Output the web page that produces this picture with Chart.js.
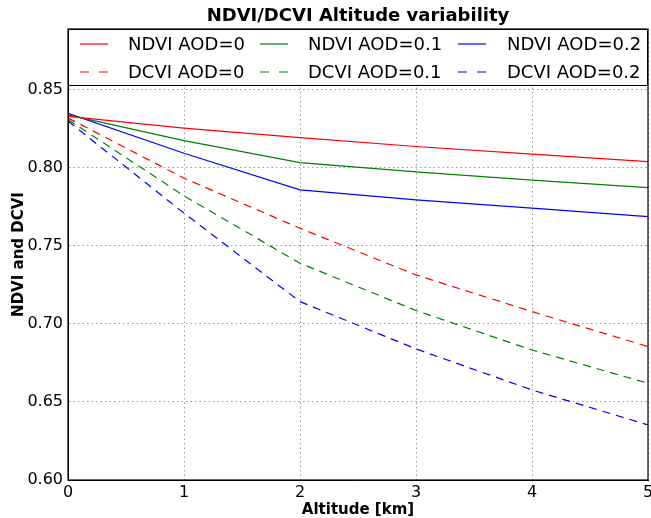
<!DOCTYPE html>
<html>
<head>
<meta charset="utf-8">
<script src="https://cdn.jsdelivr.net/npm/chart.js@4"></script>
<style>
  body { margin: 0; background: #fff; }
  #wrap { width: 651px; height: 518px; }
</style>
</head>
<body>
<div id="wrap"><canvas id="chart" width="651" height="518"></canvas></div>
<script>
// ============================================================
// Data
// ============================================================
const altitude = [0, 1, 2, 3, 4, 5];
const ndviAod0 = [0.833, 0.8255, 0.8194, 0.8137, 0.8088, 0.804];
const ndviAod01 = [0.834, 0.8175, 0.8034, 0.7974, 0.7921, 0.7874];
const ndviAod02 = [0.835, 0.8094, 0.7859, 0.7795, 0.7742, 0.7688];
const dcviAod0 = [0.832, 0.7934, 0.7613, 0.7314, 0.7079, 0.6855];
const dcviAod01 = [0.831, 0.7821, 0.7389, 0.7086, 0.6833, 0.662];
const dcviAod02 = [0.830, 0.7710, 0.7143, 0.684, 0.6577, 0.6353];
const yTicks = [0.60, 0.65, 0.70, 0.75, 0.80, 0.85];
const xTicks = [0, 1, 2, 3, 4, 5];

const FONT = "'DejaVu Sans', sans-serif";
const DASH = [8, 6];

function series(label, values, color, dashed) {
  return {
    label,
    data: values.map((v, i) => ({ x: altitude[i], y: v })),
    borderColor: color,
    backgroundColor: color,
    borderWidth: 1.2,
    borderDash: dashed ? DASH : [],
    pointRadius: 0,
    tension: 0,
    fill: false,
  };
}

// legend order: matplotlib ncol=3 fills column by column
const datasets = [
  series('NDVI AOD=0', ndviAod0, '#ff0000', false),
  series('DCVI AOD=0', dcviAod0, '#ff0000', true),
  series('NDVI AOD=0.1', ndviAod01, '#008000', false),
  series('DCVI AOD=0.1', dcviAod01, '#008000', true),
  series('NDVI AOD=0.2', ndviAod02, '#0000ff', false),
  series('DCVI AOD=0.2', dcviAod02, '#0000ff', true),
];

// ============================================================
// Legend box inside the axes + frame around the plot
// ============================================================
const boxLegend = {
  id: 'boxLegend',
  afterDatasetsDraw(chart) {
    const { ctx, chartArea: a } = chart;
    const top = a.top, bottom = a.top + 56;
    const rows = [top + 15, top + 43];
    const lineX = [a.left + 12, a.left + 192, a.left + 390];
    const textX = [a.left + 60, a.left + 240, a.left + 439];
    ctx.save();
    ctx.fillStyle = '#fff';
    ctx.fillRect(a.left, top, a.right - a.left, bottom - top);
    ctx.strokeStyle = '#000';
    ctx.lineWidth = 1;
    ctx.strokeRect(a.left + 0.5, top + 0.5, a.right - a.left - 1, bottom - top);
    ctx.font = '18px ' + FONT;
    ctx.textBaseline = 'middle';
    ctx.fillStyle = '#000';
    chart.data.datasets.forEach((ds, i) => {
      const col = Math.floor(i / 2), row = i % 2;
      const y = rows[row];
      ctx.strokeStyle = ds.borderColor;
      ctx.lineWidth = 1.2;
      ctx.setLineDash(ds.borderDash.length ? [9, 10] : []);
      ctx.beginPath();
      ctx.moveTo(lineX[col], y);
      ctx.lineTo(lineX[col] + 28, y);
      ctx.stroke();
      ctx.setLineDash([]);
      ctx.fillText(ds.label, textX[col], y + 1);
    });
    ctx.restore();
  },
  afterDraw(chart) {
    const { ctx, chartArea: a } = chart;
    ctx.save();
    ctx.strokeStyle = '#000';
    ctx.lineWidth = 1.2;
    ctx.strokeRect(a.left, a.top, a.right - a.left, a.bottom - a.top);
    ctx.restore();
  },
};

// ============================================================
// Chart
// ============================================================
const ctx = document.getElementById('chart').getContext('2d');
new Chart(ctx, {
  type: 'line',
  data: { datasets },
  options: {
    responsive: false,
    animation: false,
    layout: { autoPadding: false, padding: { top: 0, right: 3, left: 0, bottom: 0 } },
    plugins: {
      legend: { display: false },
      tooltip: { enabled: false },
      title: {
        display: true,
        fullSize: false,
        text: 'NDVI/DCVI Altitude variability',
        color: '#000',
        font: { family: FONT, size: 18, weight: 'bold', lineHeight: 1.2 },
        padding: { top: 6, bottom: 1.4 },
      },
    },
    scales: {
      x: {
        type: 'linear',
        min: 0,
        max: 5,
        afterFit: s => {
          s.height = 38;
          s.paddingLeft = 0;
          s.paddingRight = 0;
        },
        afterBuildTicks: s => { s.ticks = xTicks.map(v => ({ value: v })); },
        grid: { color: 'rgba(0,0,0,0.4)', lineWidth: 1, drawTicks: false },
        border: { display: true, color: '#000', width: 1, dash: [1.5, 3] },
        ticks: {
          color: '#000',
          padding: 3,
          maxRotation: 0,
          font: { family: FONT, size: 16 },
          callback: v => String(v),
        },
        title: {
          display: true,
          text: 'Altitude [km]',
          color: '#000',
          font: { family: FONT, size: 15, weight: 'bold', lineHeight: 1.2 },
          padding: { top: 0, bottom: -1 },
        },
      },
      y: {
        min: 0.6,
        max: 0.889,
        afterFit: s => {
          s.width = 68;
          s.paddingTop = 0;
          s.paddingBottom = 0;
        },
        afterBuildTicks: s => { s.ticks = yTicks.map(v => ({ value: v })); },
        grid: { color: 'rgba(0,0,0,0.4)', lineWidth: 1, drawTicks: false },
        border: { display: true, color: '#000', width: 1, dash: [1.5, 3] },
        ticks: {
          color: '#000',
          padding: 5,
          font: { family: FONT, size: 16 },
          callback: v => Number(v).toFixed(2),
        },
        title: {
          display: true,
          text: 'NDVI and DCVI',
          color: '#000',
          font: { family: FONT, size: 15, weight: 'bold', lineHeight: 1.2 },
          padding: { top: 10, bottom: 0 },
        },
      },
    },
  },
  plugins: [boxLegend],
});
</script>
</body>
</html>
